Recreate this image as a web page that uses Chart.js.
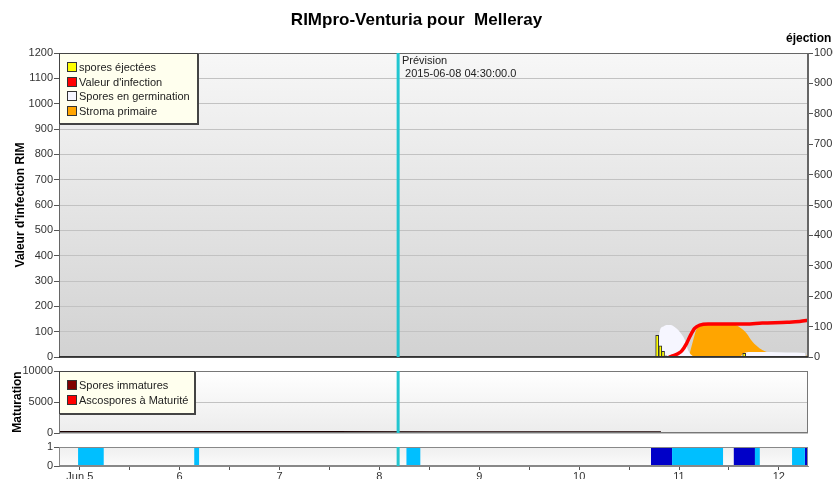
<!DOCTYPE html>
<html>
<head>
<meta charset="utf-8">
<title>RIMpro-Venturia pour Melleray</title>
<script src="https://cdn.jsdelivr.net/npm/chart.js@4.4.1/dist/chart.umd.min.js"></script>
<style>
  body { margin: 0; background: #fff; font-family: "Liberation Sans", Arial, sans-serif; }
  #wrap { position: relative; width: 833px; height: 479px; overflow: hidden; }
  #wrap canvas { position: absolute; left: 0; top: 0; }
  .txt { position: absolute; white-space: pre; color: #000; }
  .title { left: 0; top: 10px; width: 833px; text-align: center; font-weight: bold; font-size: 17px; line-height: 20px; }
  .axt { font-weight: bold; font-size: 12px; line-height: 14px; text-align: center; transform: rotate(-90deg); }
  .note { font-size: 11px; line-height: 13px; color: #222; }
  .legend { position: absolute; box-sizing: border-box; background: #ffffee; border: 1px solid #444;
            box-shadow: 1px 1px 0 #444; padding: 6px 0 0 7px; font-size: 11px; line-height: 14.5px; color: #222; }
  .legend .sw { display: inline-block; box-sizing: border-box; width: 10px; height: 10px; border: 1px solid #333;
                margin-right: 2px; vertical-align: -1px; }
</style>
</head>
<body>
<div id="wrap">
  <canvas id="main" width="833" height="479"></canvas>
  <canvas id="matu" width="833" height="479"></canvas>
  <canvas id="wet" width="833" height="479"></canvas>

  <div class="txt title">RIMpro-Venturia pour  Melleray</div>
  <div class="txt axt" style="left:-80px; top:198px; width:200px;">Valeur d'infection RIM</div>
  <div class="txt axt" style="left:-33px; top:395px; width:100px;">Maturation</div>
  <div class="txt" style="left:786px; top:31px; font-weight:bold; font-size:12px; line-height:14px;">éjection</div>
  <div class="txt note" style="left:402px; top:54px;">Prévision
 2015-06-08 04:30:00.0</div>

  <div id="legMain" class="legend" style="left:59px; top:53px; width:139px; height:71px;"></div>
  <div id="legMatu" class="legend" style="left:59px; top:371px; width:136px; height:43px;"></div>
</div>

<script>
// times are 'MM-DD hh:mm' in June 2015
const xStart = '06-04 19:00';
const xEnd = '06-12 07:00';
const forecastTime = '06-08 04:30';

const dayTicks = [5, 6, 7, 8, 9, 10, 11, 12];
const dayLabels = ['Jun 5', '6', '7', '8', '9', '10', '11', '12'];

// spores éjectées (axe de droite)
const ejectTimes = ['06-10 18:45', '06-10 19:30', '06-10 20:10', '06-10 20:45', '06-11 14:35', '06-11 15:40', '06-11 16:35'];
const ejectValues = [71, 37, 19, 4, 2, 12, 2];

// valeur d'infection RIM
const rimTimes = ['06-10 21:35', '06-10 22:40', '06-10 23:50', '06-11 00:40', '06-11 01:50', '06-11 02:35', '06-11 03:45',
                  '06-11 05:00', '06-11 07:00', '06-11 12:00', '06-11 16:00', '06-11 20:00', '06-12 02:00', '06-12 05:00', '06-12 07:25'];
const rimValues = [0, 5, 14, 24, 54, 80, 113, 126, 130, 130, 130, 134, 137, 140, 146];

// spores en germination
const germTimes = ['06-10 18:40', '06-10 19:25', '06-10 20:15', '06-10 21:00', '06-10 22:00', '06-10 22:35', '06-10 23:20',
                   '06-11 00:10', '06-11 01:25', '06-11 02:10', '06-11 03:00', '06-11 03:50', '06-11 14:30', '06-11 15:40',
                   '06-11 17:00', '06-11 22:00', '06-12 02:00', '06-12 06:15', '06-12 06:25'];
const germValues = [0, 106, 120, 126, 126, 122, 113, 100, 67, 28, 8, 0, 0, 16, 20, 20, 18, 16, 0];

// stroma primaire
const stromaTimes = ['06-11 02:20', '06-11 03:25', '06-11 04:05', '06-11 05:00', '06-11 06:00', '06-11 13:30', '06-11 14:30',
                     '06-11 16:10', '06-11 17:40', '06-11 19:20', '06-11 20:55', '06-11 22:30', '06-12 00:55', '06-12 02:30',
                     '06-12 04:00', '06-12 06:20', '06-12 07:00', '06-12 07:25'];
const stromaValues = [0, 67, 105, 124, 126, 126, 118, 95, 60, 35, 21, 16, 8, 3, 0, 0, 14, 18];

// maturation
const immatureTimes = ['06-04 19:00', '06-05 12:00', '06-06 12:00', '06-07 12:00', '06-08 12:00', '06-09 12:00', '06-10 12:00', '06-10 19:40'];
const immatureValues = [150, 150, 150, 150, 140, 140, 130, 130];
const matureTimes = [];
const matureValues = [];

// humectation : [début, fin]
const wetLight = [['06-04 23:35', '06-05 05:45'], ['06-06 03:30', '06-06 04:40'], ['06-08 06:30', '06-08 09:50'],
                  ['06-10 22:20', '06-11 10:35'], ['06-11 18:15', '06-11 19:25'], ['06-12 03:10', '06-12 06:15']];
const wetDark = [['06-10 17:15', '06-10 22:20'], ['06-11 13:10', '06-11 18:15'], ['06-12 06:15', '06-12 07:30']];

// ---------------------------------------------------------------

const toDay = (s) => {
  const [md, hm] = s.split(' ');
  const [h, m] = hm.split(':').map(Number);
  return Number(md.split('-')[1]) + h / 24 + m / 1440;
};
const pts = (times, vals) => times.map((t, i) => ({ x: toDay(t), y: vals[i] }));
const periods = (list) => list.flatMap(([s, e]) => [{ x: toDay(s), y: 1 }, { x: toDay(e), y: 0 }]);

const X_MIN = toDay(xStart);
const X_MAX = toDay(xEnd);
const forecastDay = toDay(forecastTime);

Chart.defaults.font.family = '"Liberation Sans", Arial, sans-serif';
Chart.defaults.font.size = 11;
Chart.defaults.color = '#333';

// fond dégradé, cadre et ligne de prévision
const panelPlugin = {
  id: 'panel',
  beforeDraw(chart, args, opts) {
    const { ctx, chartArea: a } = chart;
    const g = ctx.createLinearGradient(0, a.top, 0, a.bottom);
    g.addColorStop(0, opts.top);
    g.addColorStop(1, opts.bottom);
    ctx.save();
    ctx.fillStyle = g;
    ctx.fillRect(a.left, a.top, a.right - a.left, a.bottom - a.top);
    ctx.restore();
  },
  afterDraw(chart, args, opts) {
    const { ctx, chartArea: a, scales } = chart;
    ctx.save();
    ctx.strokeStyle = opts.frame;
    ctx.lineWidth = 1;
    ctx.strokeRect(a.left + 0.5, a.top + 0.5, a.right - a.left - 1, a.bottom - a.top - 1);
    if (opts.base) {
      ctx.strokeStyle = opts.base;
      ctx.lineWidth = 1.5;
      ctx.beginPath();
      ctx.moveTo(a.left, a.bottom);
      ctx.lineTo(a.right, a.bottom);
      ctx.stroke();
    }
    const x = scales.x.getPixelForValue(forecastDay);
    ctx.strokeStyle = '#22c6d0';
    ctx.lineWidth = 3;
    ctx.beginPath();
    ctx.moveTo(x, a.top);
    ctx.lineTo(x, a.bottom);
    ctx.stroke();
    ctx.restore();
  }
};

const plain = (v) => String(v);
const hiddenX = { type: 'linear', min: X_MIN, max: X_MAX, offset: false, display: false };
const leftAxis = (min, max, step, gridOnArea) => ({
  position: 'left', min, max,
  afterFit: (s) => { s.width = 59; },
  ticks: { stepSize: step, padding: 1, color: '#333', callback: plain },
  grid: { color: '#c2c2c2', tickColor: '#555', tickLength: 5, drawOnChartArea: gridOnArea },
  border: { color: '#666' }
});

const mainChart = new Chart(document.getElementById('main'), {
  type: 'line',
  data: {
    datasets: [
      {
        type: 'bar', label: 'spores éjectées', yAxisID: 'y2',
        data: pts(ejectTimes, ejectValues),
        backgroundColor: '#ffff00', borderColor: '#333', borderWidth: 1,
        barThickness: 3, grouped: false
      },
      {
        label: "Valeur d'infection", yAxisID: 'y',
        data: pts(rimTimes, rimValues),
        borderColor: '#ff0000', backgroundColor: '#ff0000', borderWidth: 3.5,
        pointRadius: 0, cubicInterpolationMode: 'monotone', fill: false
      },
      {
        label: 'Spores en germination', yAxisID: 'y',
        data: pts(germTimes, germValues),
        borderWidth: 0, backgroundColor: '#f6f6ff', pointRadius: 0,
        cubicInterpolationMode: 'monotone', fill: 'origin'
      },
      {
        label: 'Stroma primaire', yAxisID: 'y',
        data: pts(stromaTimes, stromaValues),
        borderWidth: 0, backgroundColor: '#ffa500', pointRadius: 0,
        cubicInterpolationMode: 'monotone', fill: 'origin'
      }
    ]
  },
  options: {
    responsive: false, animation: false, events: [],
    layout: { padding: { top: 53, bottom: 122, left: 0, right: 0 } },
    scales: {
      x: hiddenX,
      y: leftAxis(0, 1200, 100, true),
      y2: {
        position: 'right', min: 0, max: 1000,
        afterFit: (s) => { s.width = 25; },
        ticks: { stepSize: 100, padding: 1, color: '#333', callback: plain },
        grid: { drawOnChartArea: false, tickColor: '#555', tickLength: 5 },
        border: { color: '#666' }
      }
    },
    plugins: {
      legend: { display: false }, tooltip: { enabled: false },
      panel: { top: '#f7f7f7', bottom: '#d2d2d2', frame: '#666', base: '#222' }
    }
  },
  plugins: [panelPlugin]
});

const matuChart = new Chart(document.getElementById('matu'), {
  type: 'line',
  data: {
    datasets: [
      {
        label: 'Spores immatures', legendColor: '#800000',
        data: pts(immatureTimes, immatureValues),
        borderColor: '#1a0000', borderWidth: 2, pointRadius: 0, fill: false
      },
      {
        label: 'Ascospores à Maturité', legendColor: '#ff0000',
        data: pts(matureTimes, matureValues),
        borderColor: '#ff0000', borderWidth: 2, pointRadius: 0, fill: false
      }
    ]
  },
  options: {
    responsive: false, animation: false, events: [],
    layout: { padding: { top: 371, bottom: 46, left: 0, right: 25 } },
    scales: {
      x: hiddenX,
      y: leftAxis(0, 10000, 5000, true)
    },
    plugins: {
      legend: { display: false }, tooltip: { enabled: false },
      panel: { top: '#ffffff', bottom: '#ececec', frame: '#777' }
    }
  },
  plugins: [panelPlugin]
});

const wetChart = new Chart(document.getElementById('wet'), {
  type: 'line',
  data: {
    datasets: [
      {
        label: 'Humectation', data: periods(wetLight), stepped: true,
        borderWidth: 0, backgroundColor: '#00bfff', pointRadius: 0, fill: 'origin'
      },
      {
        label: 'Humectation (pluie)', data: periods(wetDark), stepped: true,
        borderWidth: 0, backgroundColor: '#0000c8', pointRadius: 0, fill: 'origin'
      }
    ]
  },
  options: {
    responsive: false, animation: false, events: [],
    layout: { padding: { top: 447, bottom: 0, left: 0, right: 25 } },
    scales: {
      x: {
        type: 'linear', min: X_MIN, max: X_MAX, offset: false,
        afterFit: (s) => { s.height = 13; },
        afterBuildTicks: (s) => {
          s.ticks = dayTicks.flatMap((d) => [d, d + 0.5]).filter((v) => v <= X_MAX).map((v) => ({ value: v }));
        },
        ticks: {
          autoSkip: false, maxRotation: 0, padding: 0, color: '#333',
          callback: (v) => { const i = dayTicks.indexOf(v); return i >= 0 ? dayLabels[i] : ''; }
        },
        grid: { drawOnChartArea: false, tickColor: '#555', tickLength: 4 },
        border: { color: '#888' }
      },
      y: leftAxis(0, 1, 1, false)
    },
    plugins: {
      legend: { display: false }, tooltip: { enabled: false },
      panel: { top: '#efefef', bottom: '#fbfbfb', frame: '#888' }
    }
  },
  plugins: [panelPlugin]
});

// légendes dans le cadre
const htmlLegend = (chart, el) => {
  el.innerHTML = chart.data.datasets.map((ds) =>
    `<div><span class="sw" style="background:${ds.legendColor || ds.backgroundColor}"></span>${ds.label}</div>`
  ).join('');
};
htmlLegend(mainChart, document.getElementById('legMain'));
htmlLegend(matuChart, document.getElementById('legMatu'));
</script>
</body>
</html>
